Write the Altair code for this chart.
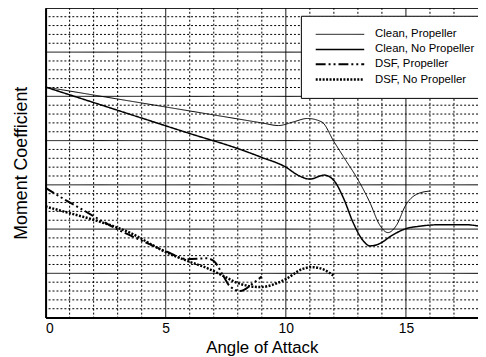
import altair as alt
import pandas as pd

series_names = ["Clean, Propeller", "Clean, No Propeller", "DSF, Propeller", "DSF, No Propeller"]

clean_prop_x = [0, 2, 4, 6, 8, 9, 9.7, 10.3, 10.9, 11.5, 12, 12.5, 13, 13.5, 13.9, 14.25, 14.6, 15, 15.5, 16]
clean_prop_y = [5.21, 5.03, 4.85, 4.67, 4.49, 4.40, 4.34, 4.42, 4.50, 4.42, 3.98, 3.55, 3.12, 2.6, 2.1, 1.92, 2.08, 2.55, 2.8, 2.86]

clean_noprop_x = [0, 2, 4, 6, 8, 9, 10, 10.5, 11, 11.6, 12, 12.4, 12.8, 13.2, 13.5, 13.9, 14.4, 15, 15.5, 16.5, 17.5, 18]
clean_noprop_y = [5.21, 4.86, 4.51, 4.16, 3.82, 3.62, 3.40, 3.22, 3.13, 3.22, 3.10, 2.70, 2.15, 1.75, 1.62, 1.67, 1.85, 2.01, 2.06, 2.10, 2.10, 2.07]

dsf_prop_x = [0, 0.6, 1.5, 3, 4, 5, 5.9, 6.7, 7.0, 7.4, 7.65, 8.1, 8.65, 9.0]
dsf_prop_y = [2.93, 2.73, 2.45, 1.99, 1.74, 1.50, 1.32, 1.34, 1.28, 0.94, 0.72, 0.60, 0.78, 0.93]

dsf_noprop_x = [0, 1, 2, 3.5, 5, 5.9, 6.8, 7.4, 8.1, 8.95, 10.0, 10.7, 11.1, 11.6, 12]
dsf_noprop_y = [2.51, 2.36, 2.21, 1.92, 1.48, 1.28, 1.10, 0.94, 0.76, 0.69, 0.87, 1.10, 1.14, 1.08, 0.94]

x_labels = [0, 5, 10, 15]
x_major = [5, 10, 15]
x_minor = [1, 2, 3, 4, 6, 7, 8, 9, 11, 12, 13, 14, 16, 17]
y_major = [1, 2, 3, 4, 5, 6]
y_minor = [round(i * 0.2, 2) for i in range(1, 35) if i % 5 != 0]

rows = []
for name, xs, ys in [
    (series_names[0], clean_prop_x, clean_prop_y),
    (series_names[1], clean_noprop_x, clean_noprop_y),
    (series_names[2], dsf_prop_x, dsf_prop_y),
    (series_names[3], dsf_noprop_x, dsf_noprop_y),
]:
    for a, b in zip(xs, ys):
        rows.append({"series": name, "x": a, "y": b})
df = pd.DataFrame(rows)

xscale = alt.Scale(domain=[0, 18], nice=False, zero=False)
yscale = alt.Scale(domain=[0, 7], nice=False, zero=False)

x_axis = alt.Axis(values=x_labels, title="Angle of Attack", grid=False, ticks=False,
                  tickSize=0, labelPadding=4, labelFontSize=14, titleFontSize=17,
                  titleFontWeight="normal", titlePadding=4, domainWidth=2,
                  domainColor="black", labelColor="black", titleColor="black")
y_axis = alt.Axis(labels=False, ticks=False, grid=False, title="Moment Coefficient",
                  titleFontSize=18, titleFontWeight="normal", titlePadding=15,
                  domainWidth=2, domainColor="black", titleColor="black")

def vrules(vals, dash, width):
    return alt.Chart(pd.DataFrame({"v": vals})).mark_rule(
        color="black", strokeWidth=width, strokeDash=dash
    ).encode(x=alt.X("v:Q", scale=xscale, axis=x_axis))

def hrules(vals, dash, width):
    return alt.Chart(pd.DataFrame({"v": vals})).mark_rule(
        color="black", strokeWidth=width, strokeDash=dash
    ).encode(y=alt.Y("v:Q", scale=yscale, axis=y_axis))

grid = alt.layer(
    vrules(x_minor, [2, 2], 1),
    hrules(y_minor, [2, 2], 1),
    vrules(x_major, [1, 0], 1),
    hrules(y_major, [1, 0], 1),
)

lines = alt.Chart(df).mark_line(interpolate="monotone", strokeCap="butt").encode(
    x=alt.X("x:Q", scale=xscale, axis=x_axis),
    y=alt.Y("y:Q", scale=yscale, axis=y_axis),
    color=alt.value("black"),
    strokeDash=alt.StrokeDash("series:N",
                              scale=alt.Scale(domain=series_names,
                                              range=[[1, 0], [1, 0], [10, 3, 2, 3, 2, 3], [2, 1.5]]),
                              legend=alt.Legend(title=None)),
    strokeWidth=alt.StrokeWidth("series:N",
                                scale=alt.Scale(domain=series_names, range=[1, 2.5, 3.2, 2.6]),
                                legend=alt.Legend(title=None)),
)

chart = alt.layer(grid, lines).properties(
    width=437, height=313,
    autosize=alt.AutoSizeParams(type="none"),
    padding={"left": 38, "top": -2, "right": 0, "bottom": 40},
).configure(font="Liberation Sans").configure_view(
    stroke="black", strokeWidth=1
).configure_legend(
    orient="none", legendX=258, legendY=8, strokeColor="black", fillColor="white",
    padding=13, rowPadding=3, labelOffset=29, symbolOffset=20,
    labelFontSize=11.5, labelColor="black",
    symbolType="M-4.9,0L4.9,0", symbolSize=100, symbolStrokeColor="black",
    symbolOpacity=1, cornerRadius=0,
)

chart.save("out.html", embed_options={"renderer": "svg", "actions": False})
